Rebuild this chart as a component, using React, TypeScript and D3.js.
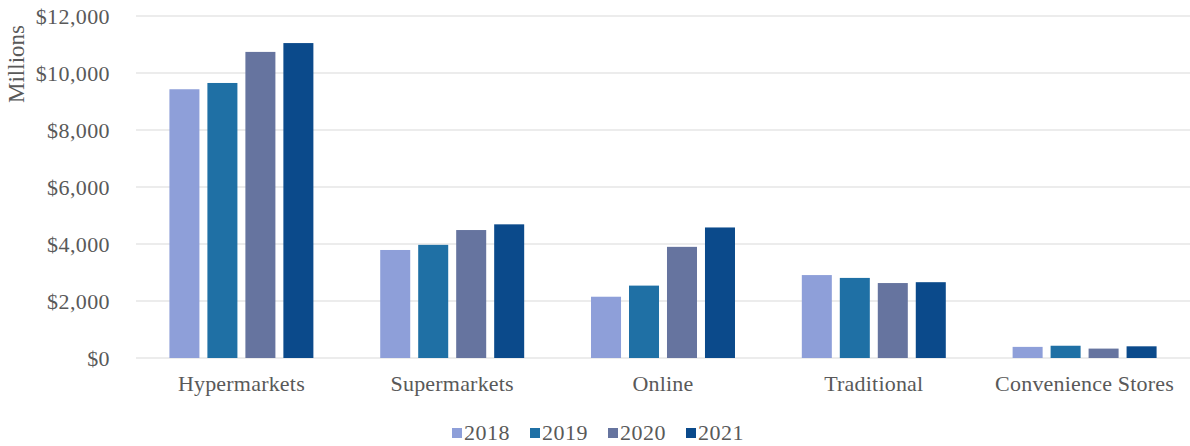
import React, { useEffect, useRef } from 'react';
import * as d3 from 'd3';

const CATEGORIES = ['Hypermarkets', 'Supermarkets', 'Online', 'Traditional', 'Convenience Stores'];
const YEARS = ['2018', '2019', '2020', '2021'];
const YEAR_COLORS = ['#8e9fd9', '#1f70a5', '#66749f', '#0b4a8b'];

// values in $ millions, one array per year (same order as CATEGORIES)
const VALUES_2018 = [9430, 3790, 2150, 2910, 390];
const VALUES_2019 = [9650, 3970, 2540, 2810, 430];
const VALUES_2020 = [10740, 4490, 3900, 2630, 330];
const VALUES_2021 = [11050, 4690, 4580, 2660, 410];
const SERIES = [VALUES_2018, VALUES_2019, VALUES_2020, VALUES_2021];

const Y_TICKS = [0, 2000, 4000, 6000, 8000, 10000, 12000];

const WIDTH = 1190;
const HEIGHT = 446;
const FONT = '"Liberation Serif", "Times New Roman", serif';
const TEXT_COLOR = '#595959';

const App: React.FC = () => {
  const svgRef = useRef<SVGSVGElement>(null);

  useEffect(() => {
    if (!svgRef.current) return;
    const svg = d3.select(svgRef.current);
    svg.selectAll('*').remove();

    const plot = { left: 136, right: 1190, top: 16, bottom: 358 };

    const x0 = d3
      .scaleBand<string>()
      .domain(CATEGORIES)
      .range([plot.left, plot.right])
      .paddingInner(0.317)
      .paddingOuter(0.1585);

    const x1 = d3
      .scaleBand<string>()
      .domain(YEARS)
      .range([0, x0.bandwidth()])
      .paddingInner(0.21);

    const y = d3.scaleLinear().domain([0, 12000]).range([plot.bottom, plot.top]);

    // gridlines
    svg
      .append('g')
      .selectAll('line')
      .data(Y_TICKS)
      .join('line')
      .attr('x1', plot.left)
      .attr('x2', plot.right)
      .attr('y1', d => y(d))
      .attr('y2', d => y(d))
      .attr('stroke', '#d9d9d9')
      .attr('stroke-width', 1);

    // y tick labels
    svg
      .append('g')
      .selectAll('text')
      .data(Y_TICKS)
      .join('text')
      .attr('x', 110)
      .attr('y', d => y(d))
      .attr('dy', '0.35em')
      .attr('text-anchor', 'end')
      .attr('font-family', FONT)
      .attr('font-size', 22)
      .attr('letter-spacing', 0.4)
      .attr('fill', TEXT_COLOR)
      .text(d => '$' + d3.format(',')(d));

    // y axis title
    svg
      .append('text')
      .attr('transform', `translate(24,64) rotate(-90)`)
      .attr('text-anchor', 'middle')
      .attr('font-family', FONT)
      .attr('font-size', 23)
      .attr('fill', TEXT_COLOR)
      .text('Millions');

    // bars
    const groups = svg
      .append('g')
      .selectAll('g')
      .data(CATEGORIES)
      .join('g')
      .attr('transform', d => `translate(${x0(d)},0)`);

    groups
      .selectAll('rect')
      .data((_, ci) => YEARS.map((yr, yi) => ({ yr, yi, v: SERIES[yi][ci] })))
      .join('rect')
      .attr('x', d => x1(d.yr)!)
      .attr('y', d => y(d.v))
      .attr('width', x1.bandwidth())
      .attr('height', d => plot.bottom - y(d.v))
      .attr('fill', d => YEAR_COLORS[d.yi]);

    // category labels
    svg
      .append('g')
      .selectAll('text')
      .data(CATEGORIES)
      .join('text')
      .attr('x', d => x0(d)! + x0.bandwidth() / 2)
      .attr('y', 391)
      .attr('text-anchor', 'middle')
      .attr('font-family', FONT)
      .attr('font-size', 22)
      .attr('letter-spacing', 0.2)
      .attr('fill', TEXT_COLOR)
      .text(d => d);

    // legend
    const legendX = 452;
    const itemStep = 78;
    const legend = svg
      .append('g')
      .selectAll('g')
      .data(YEARS)
      .join('g')
      .attr('transform', (_, i) => `translate(${legendX + i * itemStep},432)`);

    legend
      .append('rect')
      .attr('x', 0)
      .attr('y', -4)
      .attr('width', 10)
      .attr('height', 10)
      .attr('fill', (_, i) => YEAR_COLORS[i]);

    legend
      .append('text')
      .attr('x', 12)
      .attr('y', 0)
      .attr('dy', '0.35em')
      .attr('font-family', FONT)
      .attr('font-size', 22)
      .attr('letter-spacing', 0.5)
      .attr('fill', TEXT_COLOR)
      .text(d => d);
  }, []);

  return (
    <svg
      ref={svgRef}
      width={WIDTH}
      height={HEIGHT}
      style={{ position: 'absolute', left: 0, top: 0, background: '#fff' }}
    />
  );
};

export default App;
